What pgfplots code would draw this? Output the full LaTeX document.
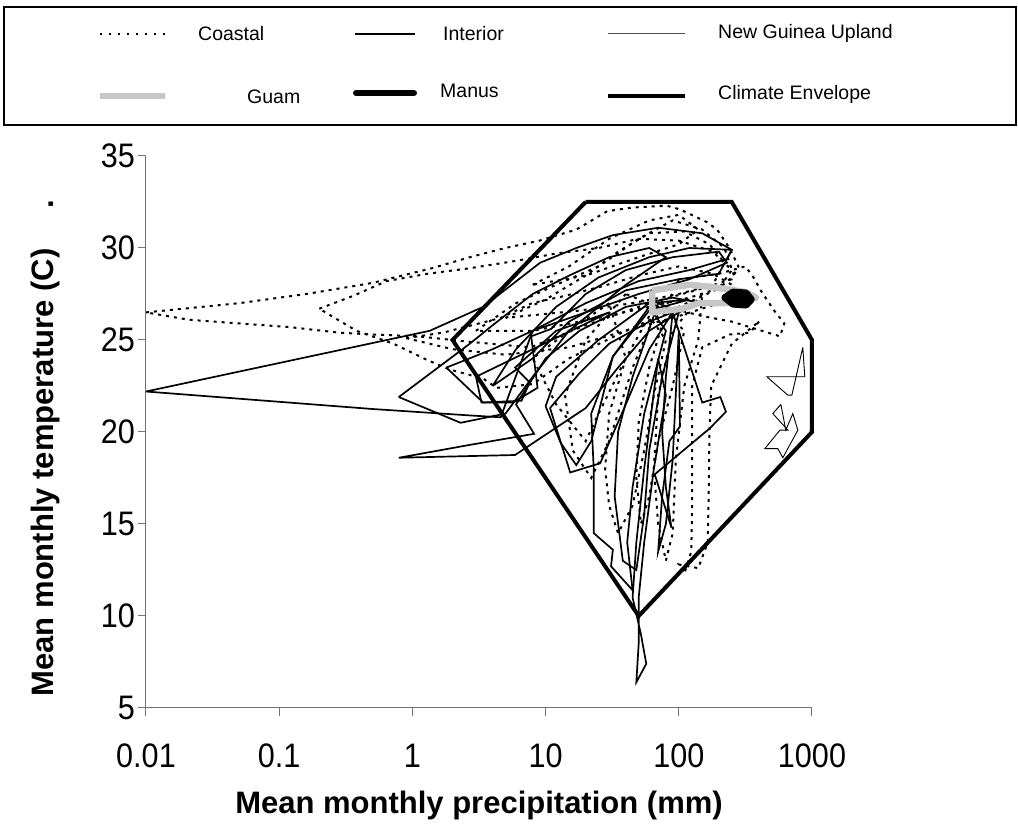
\documentclass[border=0pt]{standalone}
\usepackage{fontspec}
\setmainfont{Liberation Sans}
\usepackage{pgfplots}
\pgfplotsset{compat=1.18}
\begin{document}
\begin{tikzpicture}[x=1pt,y=1pt,
  coastal/.style={black, line width=2pt, dash pattern=on 3pt off 5pt},
  interior/.style={black, line width=1.7pt, line join=miter},
  ngu/.style={black, line width=0.9pt},
  guam/.style={gray!45, line width=6.5pt, line join=round},
  manus/.style={black, line width=7pt, line join=round, line cap=round, fill=black},
  envelope/.style={black, line width=4pt, line join=miter}]
\useasboundingbox (-146,-118) rectangle (872,708);
\begin{axis}[at={(0,0)}, anchor=south west, scale only axis,
  width=666pt, height=552pt,
  xmode=log, xmin=0.01, xmax=1000, ymin=5, ymax=35,
  axis x line=bottom, axis y line=left,
  axis line style={-, draw=black!55, line width=1pt},
  tick align=outside, major tick length=8pt,
  tick style={black!55, line width=1pt},
  xtick={0.01,0.1,1,10,100,1000},
  xticklabels={0.01,0.1,1,10,100,1000},
  ytick={5,10,15,20,25,30,35},
  minor tick num=0, log basis x=10,
  ticklabel style={font=\fontsize{34}{36}\selectfont, xscale=0.9},
  xticklabel style={anchor=north, text height=25pt, text depth=0pt, inner sep=0pt},
  /pgf/number format/assume math mode=true,
  xticklabel shift=26pt, yticklabel shift=0pt,
  clip=false]

% Coastal
\addplot[coastal] coordinates {(0.01,26.5) (0.05,27.0) (0.16,27.5) (0.5,28.1) (1.4,28.9) (2.7,29.5) (5,30.0) (9,30.4) (17,31.0) (29,32.0) (45,32.2) (81,32.3) (102,32.1) (163,31.4) (194,31.0) (240,30.0) (280,29.0) (250,28.3) (150,27.8) (60,27.0) (20,25.8) (7.7,24.6) (2.7,24.9) (1.1,25.2) (0.5,25.3) (0.28,25.4) (0.12,25.7) (0.05,25.9) (0.021,26.1) (0.01,26.5)};
\addplot[coastal] coordinates {(0.2,26.7) (0.36,27.4) (0.64,28.2) (1.3,28.6) (2.7,28.9) (6,29.3) (12,29.7) (25,30.0) (50,30.5) (100,30.4) (180,29.8) (250,28.8) (200,27.8) (100,26.8) (40,25.5) (15,24.0) (8,22.6) (4.3,22.4) (3.4,22.9) (1.9,23.4) (1.3,23.9) (0.72,24.8) (0.38,25.5) (0.2,26.7)};
\addplot[coastal] coordinates {(3,25.5) (6,27.0) (12,28.0) (25,29.0) (50,30.5) (90,31.5) (150,31.0) (220,30.0) (260,28.5) (200,27.8) (120,27.3) (60,26.8) (25,26.2) (8,25.5) (3,25.5)};
\addplot[coastal] coordinates {(5,26.2) (10,27.2) (20,28.5) (35,29.8) (60,30.8) (110,30.9) (170,30.2) (220,29.2) (180,28.0) (100,27.5) (45,27.0) (18,26.6) (5,26.2)};
\addplot[coastal] coordinates {(100,28.3) (200,28.6) (316,29.0) (364,28.4) (420,27.6) (520,26.6) (620,25.9) (575,25.2) (420,25.5) (250,26.0) (150,26.3) (80,26.8) (100,28.3)};
\addplot[coastal] coordinates {(400,26.0) (342,25.4) (242,25.3) (150,24.6) (126,22.5) (126,19.0) (126,16.0) (124,13.5) (110,12.3) (100,12.8) (140,12.6) (165,14.0) (168,17.0) (170,20.0) (175,22.5) (250,24.8) (400,26.0)};
\addplot[coastal] coordinates {(60,26.3) (40,24.0) (30,21.0) (28,18.0) (30,16.0) (35,14.5) (45,16.0) (55,19.0) (65,22.0) (80,25.0) (60,26.3)};
\addplot[coastal] coordinates {(80,26.5) (60,23.5) (50,20.5) (48,17.5) (52,15.0) (60,16.5) (70,19.5) (90,22.5) (110,25.5) (80,26.5)};
\addplot[coastal] coordinates {(30,27.0) (15,25.5) (8,24.0) (12,21.5) (20,19.5) (25,21.0) (40,24.0) (30,27.0)};
\addplot[coastal] coordinates {(0.9,25.1) (1.7,25.4) (4.6,26.2) (7.9,27.0) (14,27.4) (26,27.9) (50,28.5) (100,29.0) (180,28.6) (250,28.0) (200,27.0) (100,26.3) (40,25.5) (15,24.6) (5,24.2) (2,24.5) (0.9,25.1)};
\addplot[coastal] coordinates {(40,27.5) (20,25.0) (14,22.0) (16,19.0) (22,17.5) (30,19.5) (45,23.5) (70,26.8) (40,27.5)};
\addplot[coastal] coordinates {(150,27.5) (90,25.5) (70,22.0) (65,18.0) (70,15.0) (80,13.0) (90,14.5) (95,18.5) (110,22.5) (140,25.0) (150,27.5)};
\addplot[coastal] coordinates {(8,28.0) (15,29.0) (30,30.5) (60,31.5) (100,31.8) (140,31.0) (100,30.2) (50,29.5) (20,28.5) (8,28.0)};

% Interior
\addplot[interior] coordinates {(0.01,22.2) (1.35,25.5) (3.4,26.8) (9.1,29.2) (17,30.0) (32,30.7) (70,31.1) (150,30.8) (250,29.9) (230,29.4) (120,28.8) (50,28.2) (20,27.0) (8,25.5) (4.6,20.8) (2.7,20.9) (0.5,21.25) (0.01,22.2)};
\addplot[interior] coordinates {(0.79,18.6) (5.9,18.75) (20,21.3) (35,23.5) (60,25.5) (100,26.5) (150,27.0) (90,27.3) (40,26.8) (18,25.5) (10,24.0) (6,21.5) (8.2,19.9) (2.7,19.3) (0.79,18.6)};
\addplot[interior] coordinates {(1.8,23.5) (3.4,21.6) (5.7,21.6) (8.7,22.4) (7.8,25.2) (11,25.6) (20,27.5) (40,28.8) (90,29.5) (200,29.8) (230,29.2) (120,28.3) (50,27.5) (20,26.5) (8,25.5) (4,24.5) (1.8,23.5)};
\addplot[interior] coordinates {(0.79,21.9) (2.7,24.8) (4,25.8) (8,27.5) (15,28.5) (30,29.5) (60,30.0) (80,29.5) (40,28.0) (15,25.5) (8,23.0) (5,21.0) (2.3,20.5) (0.79,21.9)};
\addplot[interior] coordinates {(10.8,21.3) (15.3,17.8) (25.7,18.3) (40,21.5) (60,24.5) (90,26.5) (60,26.0) (30,24.8) (18,23.2) (10.8,21.3)};
\addplot[interior] coordinates {(70,24.0) (55,18.0) (48,14.0) (45,11.0) (52,9.0) (57,7.4) (48,6.4) (50,8.5) (50,11.0) (55,14.0) (65,18.0) (80,22.0) (70,24.0)};
\addplot[interior] coordinates {(90,26.5) (150,21.6) (205,21.9) (226,21.1) (171,20.2) (66,17.7) (88,14.8) (80,17.0) (75,20.0) (80,23.0) (90,26.5)};
\addplot[interior] coordinates {(100,25.5) (102,20.3) (85,19.5) (75,16.5) (70,13.5) (80,15.0) (90,18.5) (100,25.5)};
\addplot[interior] coordinates {(4,22.5) (6,24.5) (12,26.8) (25,28.4) (60,29.5) (120,30.0) (250,29.9) (200,28.6) (100,28.3) (40,27.7) (15,26.0) (8,24.0) (4,22.5)};
\addplot[interior] coordinates {(60,26.8) (32,24.1) (22,21.0) (23,17.9) (23,14.5) (32,13.6) (31,12.7) (45,11.4) (41,14.0) (45,17.0) (55,21.0) (80,25.5) (60,26.8)};
\addplot[interior] coordinates {(70,27.0) (45,23.0) (35,20.0) (33,16.5) (38,13.0) (48,12.5) (55,15.5) (60,19.0) (75,23.0) (100,26.5) (70,27.0)};
\addplot[interior] coordinates {(10,21.4) (13,19.4) (17,18.2) (22,19.5) (32,24.1) (60,26.6) (120,27.2) (60,27.0) (25,25.0) (12,23.0) (10,21.4)};
\addplot[interior] coordinates {(3.0,23.0) (3.3,21.6) (6.6,21.7) (7.6,22.7) (5.9,23.5) (12,25.5) (30,26.5) (8,24.5) (3.0,23.0)};

% New Guinea Upland
\addplot[ngu] coordinates {(853,24.6) (883,23.0) (459,23.0) (659,22.0) (706,22.0) (853,24.6)};
\addplot[ngu] coordinates {(584,21.5) (636,20.1) (718,21.0) (783,20.1) (604,18.6) (554,19.1) (443,19.1) (574,20.1) (659,20.1) (508,21.0) (584,21.5)};

% Guam
\addplot[guam] coordinates {(63,27.7) (120,28.0) (169,27.9) (320,27.6) (380,27.3) (226,27.0) (142,27.0) (106,26.7) (63,26.5) (63,27.7)};
% Manus
\addplot[manus] coordinates {(222,27.3) (255,27.6) (320,27.55) (350,27.2) (320,26.9) (255,26.95) (222,27.3)};
% Climate envelope
\addplot[envelope] coordinates {(20,32.5) (250,32.5) (1000,25) (1000,20) (50,10) (2,25) (20,32.5)};
\end{axis}

% axis titles
\node[font=\bfseries\fontsize{31}{34}\selectfont] at (333,-97) {Mean monthly precipitation (mm)};
\node[rotate=90, font=\bfseries\fontsize{31}{34}\selectfont] at (-101,260) {Mean monthly temperature (C)\hspace{1.3em}.};

% legend
\draw[line width=1.5pt] (-142,583) rectangle (870,701);
\begin{scope}[every node/.style={anchor=west, inner sep=0pt, font=\fontsize{19.5}{21}\selectfont}]
\draw[black, line width=2pt, dash pattern=on 2pt off 7pt] (-46,674) -- (19,674);
\node at (52,674) {Coastal};
\draw[black, line width=2pt] (209,674) -- (269,674);
\node at (297,674) {Interior};
\draw[black!70, line width=1pt] (462,674) -- (539,674);
\node at (572,675) {New Guinea Upland};
\draw[gray!45, line width=6pt] (-46,612) -- (19,612);
\node at (101,611) {Guam};
\draw[black, line width=6pt, line cap=round] (210,615) -- (268,615);
\node at (294,617) {Manus};
\draw[black, line width=4pt] (462,612) -- (539,612);
\node at (572,614) {Climate Envelope};
\end{scope}
\end{tikzpicture}
\end{document}
